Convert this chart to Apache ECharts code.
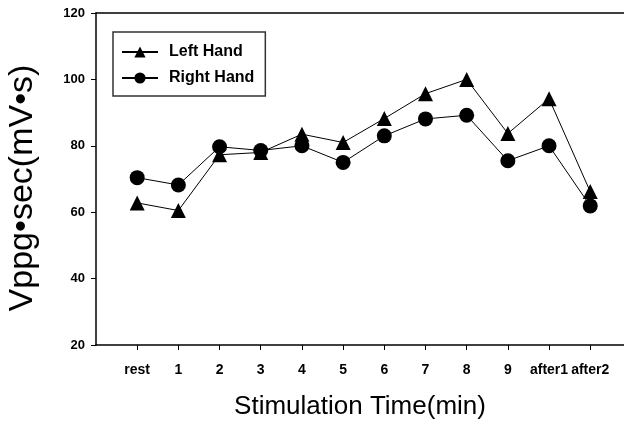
<!DOCTYPE html>
<html>
<head>
<meta charset="utf-8">
<script src="https://cdn.jsdelivr.net/npm/echarts@6/dist/echarts.min.js"></script>
<style>
html,body{margin:0;padding:0;background:#fff;}
#main{width:624px;height:421px;}
</style>
</head>
<body>
<div id="main"></div>
<script>
var timeLabels = ['rest','1','2','3','4','5','6','7','8','9','after1','after2'];
var leftHand = [62.8, 60.5, 77.3, 78, 83.5, 81, 88.2, 95.7, 100, 83.7, 94.2, 66.2];
var rightHand = [70.4, 68.2, 79.7, 78.6, 80, 75, 83, 88.1, 89.2, 75.5, 80, 61.9];
var yTicks = [20, 40, 60, 80, 100, 120];

var font = 'Arial, "Liberation Sans", sans-serif';

// x positions: 1..12 on a value axis, origin at the y axis
function toPoints(arr){
  var out = [];
  for(var i=0;i<arr.length;i++){
    out.push([i+1, arr[i]]);
  }
  return out;
}

var myChart = echarts.init(document.getElementById('main'));
var option = {
  animation: false,
  backgroundColor: '#fff',
  grid: { left: 96, right: 0, top: 13, bottom: 76, containLabel: false, outerBoundsMode: 'none' },
  legend: {
    left: 113,
    top: 32,
    orient: 'vertical',
    backgroundColor: '#fff',
    borderColor: '#333',
    borderWidth: 1.5,
    borderRadius: 0,
    padding: [12, 11, 10, 8],
    itemWidth: 36,
    itemHeight: 14,
    itemGap: 10,
    textStyle: { fontFamily: font, fontWeight: 'bold', fontSize: 16, color: '#000', padding: [0, 0, 0, 6] },
    data: ['Left Hand', 'Right Hand']
  },
  xAxis: [{
    type: 'value',
    min: 0,
    max: 12.82,
    interval: 1,
    splitLine: { show: false },
    axisLine: { lineStyle: { color: '#000', width: 1.5 } },
    axisTick: { lineStyle: { color: '#000', width: 1 }, length: 5 },
    axisLabel: {
      margin: 18,
      fontFamily: font, fontWeight: 'bold', fontSize: 14, color: '#000',
      showMinLabel: false, showMaxLabel: false,
      formatter: function(v){
        if(v % 1 !== 0) return '';
        return timeLabels[v-1] || '';
      }
    },
    name: 'Stimulation Time(min)',
    nameLocation: 'middle',
    nameGap: 49,
    nameTextStyle: { fontFamily: font, fontSize: 26, color: '#000' }
  }, {
    type: 'value',
    position: 'top',
    min: 0,
    max: 12.82,
    axisLine: { show: true, lineStyle: { color: '#000', width: 1.5 } },
    axisTick: { show: false },
    axisLabel: { show: false },
    splitLine: { show: false }
  }],
  yAxis: {
    type: 'value',
    min: yTicks[0],
    max: yTicks[yTicks.length-1],
    interval: 20,
    splitLine: { show: false },
    axisLine: { show: true, lineStyle: { color: '#000', width: 1.5 } },
    axisTick: { show: true, lineStyle: { color: '#000', width: 1 }, length: 5 },
    axisLabel: { margin: 11, fontFamily: font, fontWeight: 'bold', fontSize: 13, color: '#000' },
    name: 'Vppg\u2022sec(mV\u2022s)',
    nameLocation: 'middle',
    nameGap: 56,
    nameTextStyle: { fontFamily: font, fontSize: 34, color: '#000', padding: [0, 18, 0, 0] }
  },
  series: [{
    name: 'Left Hand',
    type: 'line',
    data: toPoints(leftHand),
    symbol: 'triangle',
    symbolSize: 15,
    lineStyle: { color: '#000', width: 1 },
    itemStyle: { color: '#000' }
  }, {
    name: 'Right Hand',
    type: 'line',
    data: toPoints(rightHand),
    symbol: 'circle',
    symbolSize: 15,
    lineStyle: { color: '#000', width: 1 },
    itemStyle: { color: '#000' }
  }]
};
myChart.setOption(option);
</script>
</body>
</html>
